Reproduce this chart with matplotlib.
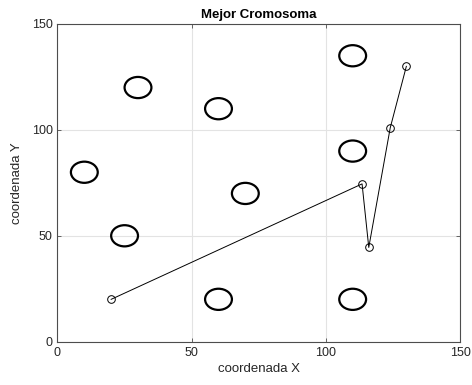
import matplotlib
matplotlib.use("Agg")
import matplotlib.pyplot as plt
from matplotlib.patches import Circle

plt.rcParams['font.family'] = ['Liberation Sans', 'DejaVu Sans']

# Obstacle centres (drawn as circles of fixed radius)
obst_x = [110, 30, 60, 10, 110, 70, 25, 60, 110]
obst_y = [135, 120, 110, 80, 90, 70, 50, 20, 20]
obst_r = 5

# Best chromosome route
route_x = [20, 113.5, 116, 124, 130]
route_y = [20, 74.5, 44.5, 101, 130]

ticks = [0, 50, 100, 150]

fig = plt.figure(figsize=(4.72, 3.85), dpi=100)
ax = fig.add_axes([0.1218, 0.1125, 0.8528, 0.8252])

for cx, cy in zip(obst_x, obst_y):
    ax.add_patch(Circle((cx, cy), obst_r, fill=False, edgecolor='black', linewidth=1.6, zorder=3))

ax.plot(route_x, route_y, color='black', linewidth=0.7, marker='o', markersize=5.5,
        markerfacecolor='none', markeredgecolor='black', markeredgewidth=0.7, zorder=4)

ax.set_xlim(0, 150)
ax.set_ylim(0, 150)
ax.set_xticks(ticks)
ax.set_yticks(ticks)
ax.grid(True, color='#e3e3e3', linewidth=0.8)
ax.set_axisbelow(True)

axis_col = '#262626'
for s in ax.spines.values():
    s.set_color('#4d4d4d')
    s.set_linewidth(0.8)
ax.tick_params(direction='in', length=3, width=0.6, colors='#4d4d4d', labelcolor=axis_col,
               labelsize=9, top=True, right=True)

ax.set_title('Mejor Cromosoma', fontsize=9.5, fontweight='bold', color='black', pad=4)
ax.set_xlabel('coordenada X', fontsize=9.5, color=axis_col, labelpad=3)
ax.set_ylabel('coordenada Y', fontsize=9.5, color=axis_col, labelpad=6)

fig.savefig('out.png', dpi=100)
